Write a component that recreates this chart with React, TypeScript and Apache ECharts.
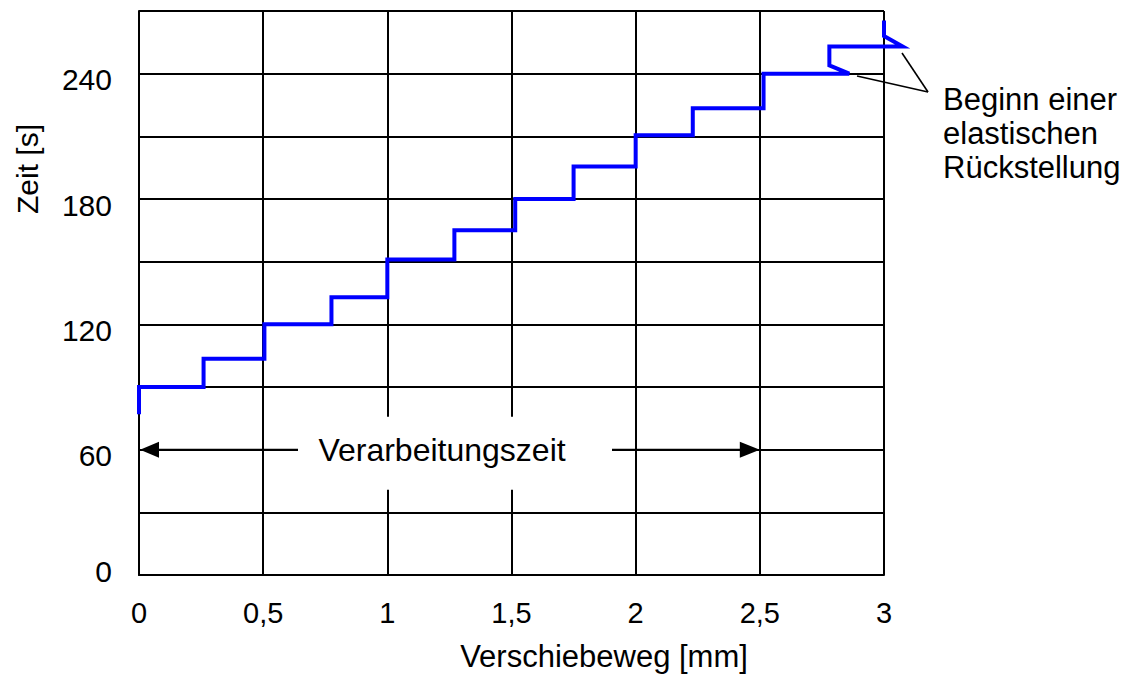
import React, { useEffect, useRef } from "react";
import * as echarts from "echarts";

const FONT = '"Liberation Sans", Arial, Helvetica, sans-serif';

// Displacement path (mm) and elapsed time (s), vertex by vertex
const displacementMm = [
  0, 0, 0.26, 0.26, 0.505, 0.505, 0.775, 0.775, 1.0, 1.0, 1.27, 1.27, 1.515,
  1.515, 1.75, 1.75, 2.0, 2.0, 2.23, 2.23, 2.515, 2.515, 2.86, 2.78, 2.78,
  3.075, 3.0, 3.0,
];
const timeS = [
  77, 90, 90, 103.5, 103.5, 120, 120, 133, 133, 151, 151, 165, 165, 180, 180,
  195.5, 195.5, 210.5, 210.5, 223.5, 223.5, 240, 240, 244, 253, 253, 258,
  265.5,
];

const xAxisTitle = "Verschiebeweg [mm]";
const yAxisTitle = "Zeit [s]";
const spanLabel = "Verarbeitungszeit";
const spanFrom = 0;
const spanTo = 2.5;
const spanAt = 60;
const noteLines = ["Beginn einer", "elastischen", "Rückstellung"];

export default function App() {
  const ref = useRef<HTMLDivElement>(null);

  useEffect(() => {
    if (!ref.current) return;
    const chart = echarts.init(ref.current, null, { renderer: "svg" });

    const pathData = displacementMm.map((d, i) => [d, timeS[i]]);

    chart.setOption({
      animation: false,
      backgroundColor: "#ffffff",
      grid: { left: 139, top: 11, width: 745, height: 564, containLabel: false },
      xAxis: {
        type: "value",
        min: 0,
        max: 3,
        interval: 0.5,
        axisLine: { show: true, lineStyle: { color: "#000", width: 2 } },
        axisTick: { show: false },
        splitLine: { show: true, lineStyle: { color: "#000", width: 2 } },
        axisLabel: {
          margin: 23,
          fontSize: 29,
          fontFamily: FONT,
          color: "#000",
          formatter: (v: number) => String(v).replace(".", ","),
        },
      },
      yAxis: {
        type: "value",
        min: 0,
        max: 270,
        interval: 30,
        axisLine: { show: true, lineStyle: { color: "#000", width: 2 } },
        axisTick: { show: false },
        splitLine: { show: true, lineStyle: { color: "#000", width: 2 } },
        axisLabel: {
          margin: 27,
          fontSize: 30,
          fontFamily: FONT,
          color: "#000",
          formatter: (v: number) =>
            v % 60 === 0 ? (v === 0 ? "{z|0}" : `{n|${v}}`) : "",
          rich: {
            n: { fontSize: 30, fontFamily: FONT, color: "#000", padding: [12, 0, 0, 0] },
            z: { fontSize: 30, fontFamily: FONT, color: "#000", padding: [0, 0, 8, 0] },
          },
        },
      },
      series: [
        {
          // one polyline through all vertices; not clipped so the
          // rebound beyond 3 mm stays visible
          type: "custom",
          data: pathData,
          encode: { x: 0, y: 1 },
          clip: false,
          z: 5,
          renderItem: (params: any, api: any) => {
            if (params.dataIndex !== 0) return null;
            const points = pathData.map((p) => api.coord(p));
            return {
              type: "polyline",
              shape: { points },
              style: { stroke: "#0000ff", lineWidth: 4, fill: null, lineJoin: "miter" },
            };
          },
        },
      ],
    });

    const toPx = (x: number, y: number) =>
      chart.convertToPixel({ gridIndex: 0 }, [x, y]) as number[];
    const [ax0, ay] = toPx(spanFrom, spanAt);
    const [ax1] = toPx(spanTo, spanAt);
    const boxLeft = 298;
    const boxRight = 612;
    const head = 20;
    const halfHead = 8;

    chart.setOption({
      graphic: [
        {
          type: "rect",
          z: 100,
          shape: { x: boxLeft, y: ay - 33, width: boxRight - boxLeft, height: 73 },
          style: { fill: "#ffffff" },
        },
        {
          type: "text",
          z: 101,
          x: 442,
          y: ay,
          style: {
            text: spanLabel,
            fontSize: 32,
            fontFamily: FONT,
            fill: "#000",
            align: "center",
            verticalAlign: "middle",
          },
        },
        {
          type: "line",
          z: 101,
          shape: { x1: ax0 + head - 2, y1: ay, x2: boxLeft, y2: ay },
          style: { stroke: "#000", lineWidth: 2 },
        },
        {
          type: "line",
          z: 101,
          shape: { x1: boxRight, y1: ay, x2: ax1 - head + 2, y2: ay },
          style: { stroke: "#000", lineWidth: 2 },
        },
        {
          type: "polygon",
          z: 101,
          shape: {
            points: [
              [ax0 + 1, ay],
              [ax0 + head, ay - halfHead],
              [ax0 + head, ay + halfHead],
            ],
          },
          style: { fill: "#000" },
        },
        {
          type: "polygon",
          z: 101,
          shape: {
            points: [
              [ax1, ay],
              [ax1 - head, ay - halfHead],
              [ax1 - head, ay + halfHead],
            ],
          },
          style: { fill: "#000" },
        },
        // leader lines to the annotation
        {
          type: "line",
          z: 101,
          shape: { x1: 857, y1: 76, x2: 928, y2: 92 },
          style: { stroke: "#000", lineWidth: 1.6 },
        },
        {
          type: "line",
          z: 101,
          shape: { x1: 902, y1: 53, x2: 928, y2: 92 },
          style: { stroke: "#000", lineWidth: 1.6 },
        },
        ...noteLines.map((t, i) => ({
          type: "text",
          z: 101,
          x: 943,
          y: 99 + i * 34,
          style: {
            text: t,
            fontSize: 31,
            fontFamily: FONT,
            fill: "#000",
            align: "left",
            verticalAlign: "middle",
          },
        })),
        {
          type: "text",
          z: 101,
          x: 604,
          y: 656,
          style: {
            text: xAxisTitle,
            fontSize: 31,
            fontFamily: FONT,
            fill: "#000",
            align: "center",
            verticalAlign: "middle",
          },
        },
        {
          type: "text",
          z: 101,
          x: 27,
          y: 169,
          rotation: Math.PI / 2,
          style: {
            text: yAxisTitle,
            fontSize: 30,
            fontFamily: FONT,
            fill: "#000",
            align: "center",
            verticalAlign: "middle",
          },
        },
      ],
    });

    return () => chart.dispose();
  }, []);

  return (
    <div
      ref={ref}
      style={{ position: "fixed", left: 0, top: 0, width: 1135, height: 675, background: "#fff" }}
    />
  );
}
